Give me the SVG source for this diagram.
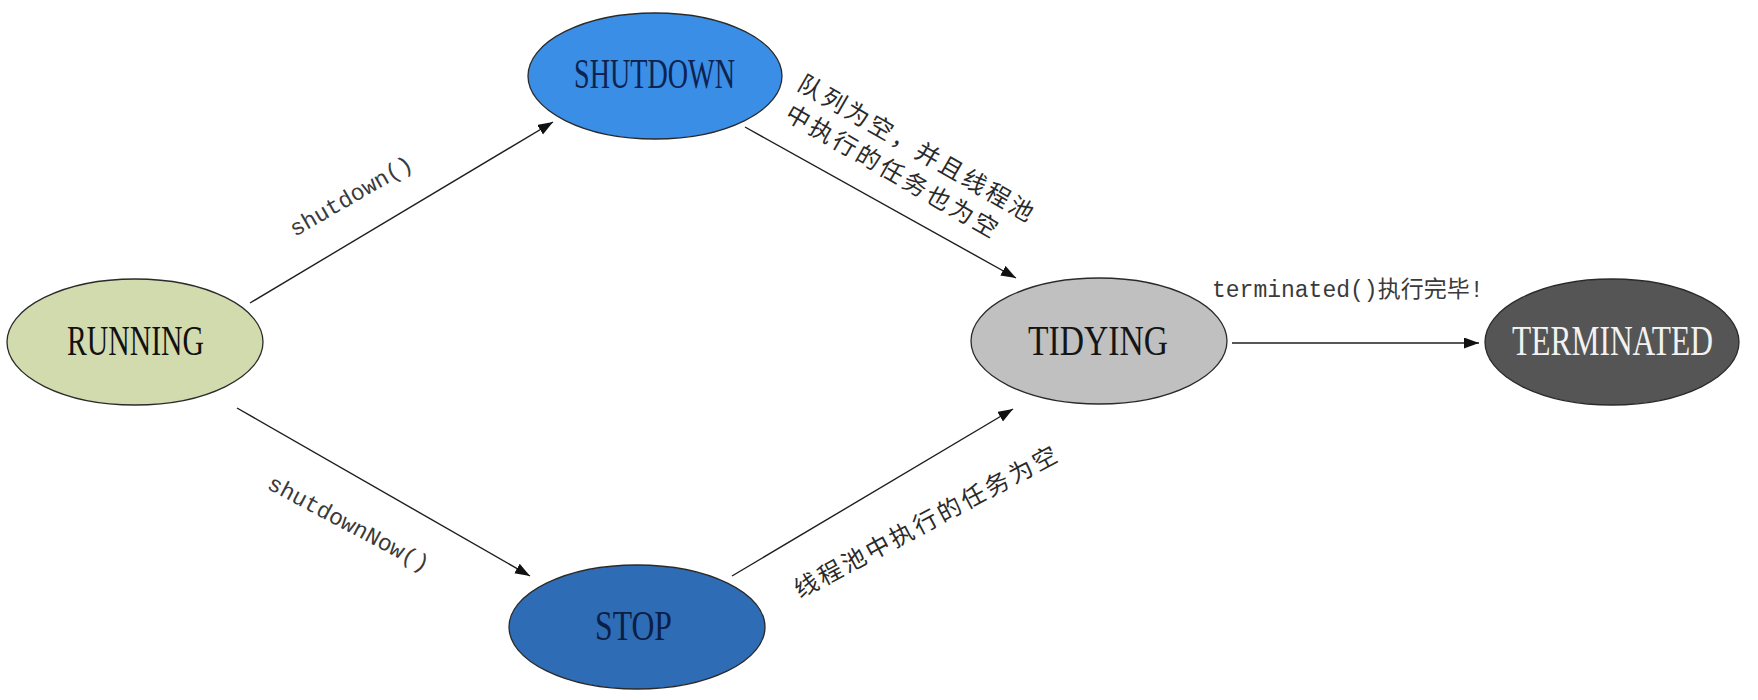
<svg xmlns="http://www.w3.org/2000/svg" width="1758" height="700" viewBox="0 0 1758 700">
<style>
.node{stroke:#2a2a2a;stroke-width:1.3}
.nt{font-family:"Liberation Serif","Times New Roman",serif;font-size:42px;text-anchor:middle}
.edge{stroke:#1e1e1e;stroke-width:1.4;fill:none;marker-end:url(#arr)}
.lbl{font-family:"Liberation Mono","Noto Sans CJK SC",monospace;font-size:23px;fill:#3a3a3a}
.cjk{font-family:"Noto Sans CJK SC",sans-serif;font-size:24px;letter-spacing:3px;fill:#2a2a2a}
</style>
<defs>
<marker id="arr" markerUnits="userSpaceOnUse" markerWidth="16" markerHeight="12" refX="15" refY="5.5" orient="auto">
<path d="M0,0 L15,5.5 L0,11 z" fill="#111"/>
</marker>
</defs>
<rect width="1758" height="700" fill="#fff"/>
<g id="connectors">
<line class="edge" x1="250" y1="303" x2="553" y2="122"/>
<line class="edge" x1="237" y1="408" x2="530" y2="576"/>
<line class="edge" x1="745" y1="127" x2="1016" y2="278"/>
<line class="edge" x1="732" y1="576" x2="1013" y2="409"/>
<line class="edge" x1="1232" y1="343" x2="1479" y2="343"/>
<text class="lbl" transform="translate(295,237) rotate(-30)">shutdown()</text>
<text class="lbl" transform="translate(266,488) rotate(28)">shutdownNow()</text>
<text class="lbl" x="1212" y="297">terminated()执行完毕!</text>
<g transform="translate(811,87) rotate(30)">
<text class="cjk" x="-12" y="9">队列为空，并且线程池</text>
<text class="cjk" x="-8" y="41">中执行的任务也为空</text>
</g>
<text class="cjk" transform="translate(806,585) rotate(-28)" x="-12" y="9">线程池中执行的任务为空</text>
</g>
<g id="RUNNING">
<ellipse class="node" cx="135" cy="342" rx="128" ry="63" fill="#d1dbae"/>
<text class="nt" x="135.5" y="355" textLength="137" lengthAdjust="spacingAndGlyphs" fill="#111">RUNNING</text>
</g>
<g id="SHUTDOWN">
<ellipse class="node" cx="655" cy="76" rx="127" ry="63" fill="#3a8ee6"/>
<text class="nt" x="654.5" y="88" textLength="161" lengthAdjust="spacingAndGlyphs" fill="#0e2350">SHUTDOWN</text>
</g>
<g id="STOP">
<ellipse class="node" cx="637" cy="627" rx="128" ry="62" fill="#2e6db5"/>
<text class="nt" x="633.5" y="640" textLength="77" lengthAdjust="spacingAndGlyphs" fill="#0c1e44">STOP</text>
</g>
<g id="TIDYING">
<ellipse class="node" cx="1099" cy="341" rx="128" ry="63" fill="#c0c0c0"/>
<text class="nt" x="1098" y="355" textLength="140" lengthAdjust="spacingAndGlyphs" fill="#151515">TIDYING</text>
</g>
<g id="TERMINATED">
<ellipse class="node" cx="1612" cy="342" rx="127" ry="63" fill="#555555"/>
<text class="nt" x="1612.5" y="355" textLength="201" lengthAdjust="spacingAndGlyphs" fill="#f2f2f2">TERMINATED</text>
</g>
</svg>
